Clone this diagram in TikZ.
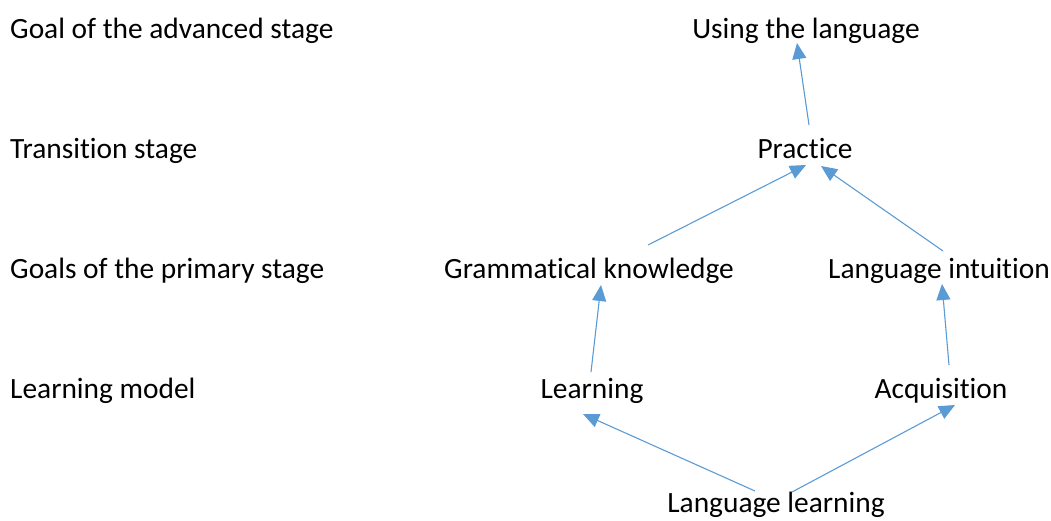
\documentclass[tikz,border=0pt]{standalone}
\usepackage{fontspec}
\setmainfont[Ligatures=NoCommon]{Carlito}
\usetikzlibrary{arrows.meta,calc}
\definecolor{arr}{HTML}{5B9BD5}
\tikzset{
  lbl/.style={font=\fontsize{29.4}{34}\selectfont, inner sep=0pt, anchor=base},
  side/.style={lbl, anchor=base west},
  link/.style={draw=arr, line width=1.1pt, -{Triangle[length=16pt,width=14pt]}}
}
\begin{document}
\begin{tikzpicture}[x=1pt,y=-1pt]
\useasboundingbox (0,0) rectangle (1051,520);
\node[side] (s1) at (10,38) {Goal of the advanced stage};
\node[side] (s2) at (10,158) {Transition stage};
\node[side] (s3) at (10,278) {Goals of the primary stage};
\node[side] (s4) at (10,398) {Learning model};

\node[lbl] (use) at (806,38) {Using the language};
\node[lbl] (prac) at (805,158) {Practice};
\node[lbl] (gram) at (589,278) {Grammatical knowledge};
\node[lbl] (intu) at (939,278) {Language intuition};
\node[lbl] (lear) at (592,398) {Learning};
\node[lbl] (acq) at (941,398) {Acquisition};
\node[lbl] (ll) at (776,512) {Language learning};

\draw[link] ($(prac.base)+(4,-33)$) -- ($(use.base)+(-9,5)$);
\draw[link] ($(gram.base)+(59,-33)$) -- ($(prac.base)+(1,7)$);
\draw[link] ($(intu.base)+(4,-27)$) -- ($(prac.base)+(16,8)$);
\draw[link] ($(lear.base)+(-1,-26)$) -- ($(gram.base)+(12,7)$);
\draw[link] ($(acq.base)+(8,-33)$) -- ($(intu.base)+(3,6)$);
\draw[link] ($(ll.base)+(-21,-21)$) -- ($(lear.base)+(-9,16)$);
\draw[link] ($(ll.base)+(16,-20)$) -- ($(acq.base)+(14,7)$);
\end{tikzpicture}
\end{document}
